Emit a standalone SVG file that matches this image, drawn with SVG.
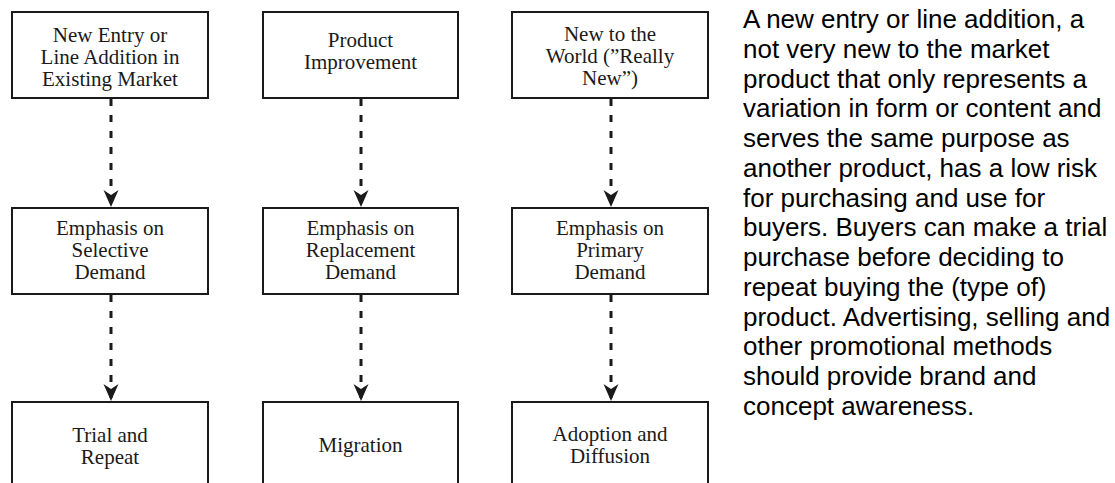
<svg xmlns="http://www.w3.org/2000/svg" width="1115" height="483" viewBox="0 0 1115 483">
<style>
.box{fill:#fff;stroke:#1a1a1a;stroke-width:2}
.bt{font-family:"Liberation Serif","Times New Roman",serif;font-size:21px;fill:#1a1a1a;text-anchor:middle}
.conn{stroke:#1a1a1a;stroke-width:3;stroke-dasharray:7 9;fill:none}
.desc{font-family:"Liberation Sans",Arial,sans-serif;font-size:26px;fill:#000}
</style>
<defs>
<marker id="ah" markerUnits="userSpaceOnUse" markerWidth="22" markerHeight="18" refX="17" refY="0" viewBox="0 -9 19 18" orient="auto" overflow="visible">
<path d="M0,-7.5 L17,0 L0,7.5 L5,0 z" fill="#1a1a1a" stroke="none"/>
</marker>
</defs>
<rect width="1115" height="483" fill="#fff"/>
<g id="connectors">
<line class="conn" x1="111" y1="99" x2="111" y2="207" marker-end="url(#ah)"/>
<line class="conn" x1="361" y1="99" x2="361" y2="207" marker-end="url(#ah)"/>
<line class="conn" x1="611" y1="99" x2="611" y2="207" marker-end="url(#ah)"/>
<line class="conn" x1="111" y1="295" x2="111" y2="401" marker-end="url(#ah)"/>
<line class="conn" x1="361" y1="295" x2="361" y2="401" marker-end="url(#ah)"/>
<line class="conn" x1="611" y1="295" x2="611" y2="401" marker-end="url(#ah)"/>
</g>
<g id="n-new-entry">
<rect class="box" x="12" y="12" width="196" height="86"/>
<text class="bt" x="110" y="42">New Entry or</text>
<text class="bt" x="110" y="64">Line Addition in</text>
<text class="bt" x="110" y="86">Existing Market</text>
</g>
<g id="n-product-improvement">
<rect class="box" x="263" y="12" width="195" height="86"/>
<text class="bt" x="360.5" y="47">Product</text>
<text class="bt" x="360.5" y="69">Improvement</text>
</g>
<g id="n-new-world">
<rect class="box" x="512" y="12" width="196" height="86"/>
<text class="bt" x="610" y="41">New to the</text>
<text class="bt" x="610" y="63">World (”Really</text>
<text class="bt" x="610" y="85">New”)</text>
</g>
<g id="n-selective">
<rect class="box" x="12" y="208" width="196" height="86"/>
<text class="bt" x="110" y="235">Emphasis on</text>
<text class="bt" x="110" y="257">Selective</text>
<text class="bt" x="110" y="279">Demand</text>
</g>
<g id="n-replacement">
<rect class="box" x="263" y="208" width="195" height="86"/>
<text class="bt" x="360.5" y="235">Emphasis on</text>
<text class="bt" x="360.5" y="257">Replacement</text>
<text class="bt" x="360.5" y="279">Demand</text>
</g>
<g id="n-primary">
<rect class="box" x="512" y="208" width="196" height="86"/>
<text class="bt" x="610" y="235">Emphasis on</text>
<text class="bt" x="610" y="257">Primary</text>
<text class="bt" x="610" y="279">Demand</text>
</g>
<g id="n-trial">
<rect class="box" x="12" y="402" width="196" height="100"/>
<text class="bt" x="110" y="442">Trial and</text>
<text class="bt" x="110" y="464">Repeat</text>
</g>
<g id="n-migration">
<rect class="box" x="263" y="402" width="195" height="100"/>
<text class="bt" x="360.5" y="452">Migration</text>
</g>
<g id="n-adoption">
<rect class="box" x="512" y="402" width="196" height="100"/>
<text class="bt" x="610" y="441">Adoption and</text>
<text class="bt" x="610" y="463">Diffusion</text>
</g>
<g id="description">
<text class="desc" x="743" y="28">A new entry or line addition, a</text>
<text class="desc" x="743" y="57.75">not very new to the market</text>
<text class="desc" x="743" y="87.5">product that only represents a</text>
<text class="desc" x="743" y="117.25">variation in form or content and</text>
<text class="desc" x="743" y="147">serves the same purpose as</text>
<text class="desc" x="743" y="176.75">another product, has a low risk</text>
<text class="desc" x="743" y="206.5">for purchasing and use for</text>
<text class="desc" x="743" y="236.25">buyers. Buyers can make a trial</text>
<text class="desc" x="743" y="266">purchase before deciding to</text>
<text class="desc" x="743" y="295.75">repeat buying the (type of)</text>
<text class="desc" x="743" y="325.5">product. Advertising, selling and</text>
<text class="desc" x="743" y="355.25">other promotional methods</text>
<text class="desc" x="743" y="385">should provide brand and</text>
<text class="desc" x="743" y="414.75">concept awareness.</text>
</g>
</svg>
